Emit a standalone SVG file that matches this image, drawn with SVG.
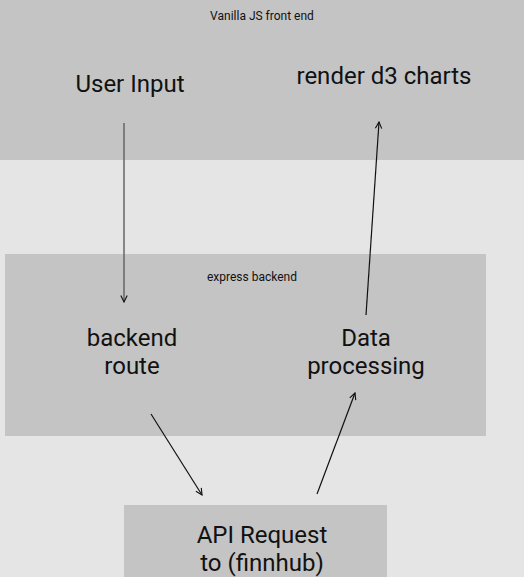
<svg xmlns="http://www.w3.org/2000/svg" width="524" height="577" viewBox="0 0 524 577">
<style>
.big{font-family:Roboto,"Liberation Sans",sans-serif;font-size:24px;fill:#111;text-anchor:middle}
.small{font-family:Roboto,"Liberation Sans",sans-serif;font-size:12px;fill:#111;text-anchor:middle}
.box{fill:#c4c4c4}
.c{fill:none;stroke:#111;stroke-width:1.2}
</style>
<defs>
<marker id="ah" viewBox="0 0 10 10" refX="9" refY="5" markerWidth="8" markerHeight="8" orient="auto" markerUnits="userSpaceOnUse">
<path d="M1,1 L9,5 L1,9" fill="none" stroke="#111" stroke-width="1.4"/>
</marker>
</defs>
<rect width="524" height="577" fill="#e5e5e5"/>
<g id="frontend">
<rect class="box" x="0" y="0" width="524" height="160"/>
<text class="small" x="262" y="20">Vanilla JS front end</text>
</g>
<g id="user-input"><text class="big" x="130" y="92">User Input</text></g>
<g id="render-charts"><text class="big" x="384" y="84">render d3 charts</text></g>
<g id="backend">
<rect class="box" x="5" y="254" width="481" height="182"/>
<text class="small" x="252" y="281">express backend</text>
</g>
<g id="backend-route"><text class="big" x="132" y="346">backend</text><text class="big" x="132" y="374">route</text></g>
<g id="data-processing"><text class="big" x="366" y="346">Data</text><text class="big" x="366" y="374">processing</text></g>
<g id="api-request">
<rect class="box" x="124" y="505" width="263" height="72"/>
<text class="big" x="262" y="543">API Request</text>
<text class="big" x="262" y="571">to (finnhub)</text>
</g>
<g id="connectors">
<line class="c" x1="124" y1="123" x2="124" y2="302" style="stroke:#666;stroke-width:1.5" marker-end="url(#ah)"/>
<line class="c" x1="366" y1="315" x2="379" y2="122" marker-end="url(#ah)"/>
<line class="c" x1="151" y1="414" x2="202" y2="495" marker-end="url(#ah)"/>
<line class="c" x1="317" y1="494" x2="355" y2="393" marker-end="url(#ah)"/>
</g>
</svg>
